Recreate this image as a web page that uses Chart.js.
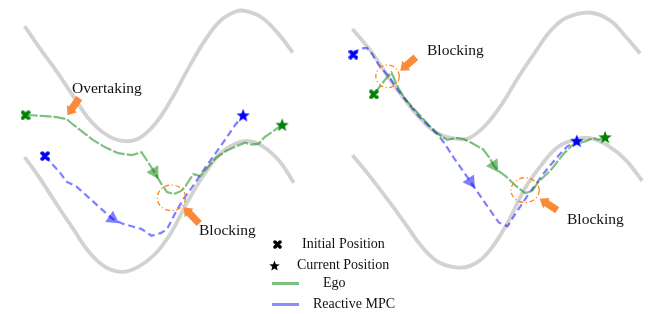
<!DOCTYPE html>
<html>
<head>
<meta charset="utf-8">
<script src="https://cdn.jsdelivr.net/npm/chart.js@4.4.0/dist/chart.umd.min.js"></script>
<style>
  html, body { margin: 0; padding: 0; background: #fff; }
  #wrap { position: relative; width: 657px; height: 314px; overflow: hidden; }
  #wrap canvas { position: absolute; left: 0; top: 0; }
  .lbl { position: absolute; font-family: 'Liberation Serif', 'DejaVu Serif', serif; color: #111; white-space: nowrap; line-height: 1; }
  .ann { font-size: 15.5px; }
  .leg { font-size: 14px; }
  .legline { position: absolute; height: 3px; width: 27px; }
</style>
</head>
<body>
<div id="wrap">
  <canvas id="chart" width="657" height="314"></canvas>
  <div class="lbl ann" style="left:72px; top:80px">Overtaking</div>
  <div class="lbl ann" style="left:199px; top:222px">Blocking</div>
  <div class="lbl ann" style="left:427px; top:42px">Blocking</div>
  <div class="lbl ann" style="left:567px; top:211px">Blocking</div>

  <span id="legX"></span>
  <div class="lbl leg" style="left:302px; top:237px">Initial Position</div>
  <span id="legStar"></span>
  <div class="lbl leg" style="left:297px; top:258px">Current Position</div>
  <div class="legline" style="left:272px; top:282px; background:rgba(0,128,0,0.5)"></div>
  <div class="lbl leg" style="left:323px; top:276px">Ego</div>
  <div class="legline" style="left:272px; top:303px; background:rgba(0,0,255,0.45)"></div>
  <div class="lbl leg" style="left:313px; top:297px">Reactive MPC</div>
</div>
<script>
// road edges (figure pixels, y down)
const leftRoadTop = [[17,19],[33,43],[50,67],[67,93],[83,117],[100,133],[117,140],[133,138],[150,123],[167,97],[183,67],[200,37],[217,14],[233,4],[243,3],[260,10],[277,27],[292,47]]
const leftRoadBottom = [[17,157],[33,180],[50,207],[67,233],[83,257],[100,273],[117,278],[133,273],[150,260],[167,237],[183,206],[200,177],[217,154],[233,143],[245,140],[260,145],[277,160],[293,184]]
const rightRoadTop = [[353,22],[373,47],[390,73],[407,97],[423,117],[440,132],[460,138],[473,137],[490,123],[507,100],[523,73],[540,47],[557,23],[573,10],[597,5],[617,13],[633,30],[648,48]]
const rightRoadBottom = [[353,155],[373,180],[390,203],[407,227],[423,250],[440,267],[457,273],[473,272],[490,260],[510,230],[530,190],[547,165],[563,147],[580,139],[597,137],[615,145],[633,160],[650,182]]

// trajectories
const leftEgo = [[18,113],[25,113],[38,114],[50,115],[60,117],[67,123],[77,131],[87,139],[100,147],[113,153],[120,154],[127,155],[137,152],[140,157],[144,163],[150,173],[157,185],[163,194],[170,196],[177,193],[182,188],[186,181],[190,175],[197,177],[203,170],[213,158],[223,151],[233,146],[243,142],[250,144],[257,143],[263,136],[273,129],[281,123]]
const leftMpc = [[38,156],[43,162],[53,173],[60,183],[70,188],[83,200],[97,213],[107,222],[117,227],[127,230],[137,233],[147,240],[157,237],[163,233],[167,225],[172,215],[180,201],[190,187],[203,167],[217,147],[233,123],[241,113]]
const rightEgo = [[375,91],[381,83],[387,75],[393,68],[400,84],[407,96],[415,105],[423,114],[431,123],[440,132],[450,139],[460,137],[467,138],[475,142],[487,149],[493,157],[498,166],[503,172],[510,177],[520,187],[530,195],[537,193],[543,184],[550,177],[557,170],[563,162],[570,153],[580,143],[587,142],[593,140],[600,137],[605,139],[612,136]]
const rightMpc = [[354,49],[360,43],[368,42],[373,48],[380,60],[390,72],[400,87],[410,100],[420,113],[430,123],[440,133],[447,142],[457,158],[474,183],[490,207],[503,226],[512,230],[520,217],[533,197],[550,173],[563,157],[573,146],[583,140]]

// where the heading triangles sit (index into trajectory)
const leftEgoArrow = 15, leftMpcArrow = 7, rightEgoArrow = 16, rightMpcArrow = 13

const GREEN = 'rgba(0,128,0,0.5)'
const BLUE = 'rgba(0,0,255,0.5)'
const ORANGE = '#fa8a3a'

const xy = a => a.map(([x, y]) => ({ x, y }))

function makeCross(color, s) {
  const c = document.createElement('canvas')
  c.width = s; c.height = s
  const g = c.getContext('2d')
  g.strokeStyle = color; g.lineWidth = s * 0.38; g.lineCap = 'round'
  const p = s * 0.22
  g.beginPath(); g.moveTo(p, p); g.lineTo(s - p, s - p); g.moveTo(s - p, p); g.lineTo(p, s - p); g.stroke()
  return c
}

function makeStar(color, s) {
  const c = document.createElement('canvas')
  c.width = s; c.height = s
  const g = c.getContext('2d')
  const R = s / 2, r = R * 0.42
  g.fillStyle = color
  g.beginPath()
  for (let i = 0; i < 10; i++) {
    const a = -Math.PI / 2 + i * Math.PI / 5
    const rr = i % 2 ? r : R
    g.lineTo(R + rr * Math.cos(a), R + 0.6 + rr * Math.sin(a))
  }
  g.closePath(); g.fill()
  return c
}

function road(pts) {
  return { data: xy(pts), showLine: true, borderColor: '#d2d2d2', borderWidth: 3.8, pointRadius: 0, tension: 0.4, order: 10 }
}
function path(pts, color, dash) {
  return { data: xy(pts), showLine: true, borderColor: color, borderWidth: 2.2, borderDash: dash, pointRadius: 0, tension: 0, order: 5 }
}
function heading(pts, i, color) {
  const [x0, y0] = pts[i - 1], [x1, y1] = pts[i + 1]
  const rot = Math.atan2(y1 - y0, x1 - x0) * 180 / Math.PI + 90
  return { data: xy([pts[i]]), pointStyle: 'triangle', pointRadius: 8, rotation: rot, backgroundColor: color, borderWidth: 0, order: 3 }
}
function marker(pts, img) {
  return { data: xy(pts), pointStyle: img, pointRadius: 6, order: 1 }
}

// dash-dot circles and fat arrows
const blockRings = [{ x: 167.5, y: 200, rx: 14.5, ry: 13.5 }, { x: 389, y: 72, rx: 12, ry: 12 }, { x: 530, y: 192, rx: 14.5, ry: 13 }]
const pointers = [{ from: [73, 95], to: [61, 113] }, { from: [196, 227], to: [180, 210] }, { from: [418, 52], to: [402, 66] }, { from: [563, 213], to: [545, 201] }]

const annotate = {
  id: 'annotate',
  afterDatasetsDraw(chart) {
    const { ctx, scales: { x, y } } = chart
    ctx.save()
    ctx.strokeStyle = '#ff7f0e'; ctx.lineWidth = 1.2; ctx.setLineDash([5, 2.5, 1.2, 2.5])
    blockRings.forEach(r => {
      const cx = x.getPixelForValue(r.x), cy = y.getPixelForValue(r.y)
      const rx = x.getPixelForValue(r.x + r.rx) - cx, ry = y.getPixelForValue(r.y + r.ry) - cy
      ctx.beginPath(); ctx.ellipse(cx, cy, rx, Math.abs(ry), 0, 0, Math.PI * 2); ctx.stroke()
    })
    ctx.setLineDash([])
    ctx.fillStyle = ORANGE
    pointers.forEach(p => {
      const x1 = x.getPixelForValue(p.from[0]), y1 = y.getPixelForValue(p.from[1])
      const x2 = x.getPixelForValue(p.to[0]), y2 = y.getPixelForValue(p.to[1])
      const dx = x2 - x1, dy = y2 - y1, len = Math.hypot(dx, dy)
      const ux = dx / len, uy = dy / len, nx = -uy, ny = ux
      const hl = 8, sw = 3.6, hw = 6.2
      const bx = x2 - ux * hl, by = y2 - uy * hl
      ctx.beginPath()
      ctx.moveTo(x1 + nx * sw, y1 + ny * sw)
      ctx.lineTo(bx + nx * sw, by + ny * sw)
      ctx.lineTo(bx + nx * hw, by + ny * hw)
      ctx.lineTo(x2, y2)
      ctx.lineTo(bx - nx * hw, by - ny * hw)
      ctx.lineTo(bx - nx * sw, by - ny * sw)
      ctx.lineTo(x1 - nx * sw, y1 - ny * sw)
      ctx.closePath(); ctx.fill()
    })
    ctx.restore()
  }
}

const greenX = makeCross('#008000', 10), blueX = makeCross('#0000ff', 10)
const greenStar = makeStar('#008000', 14), blueStar = makeStar('#0000ff', 14)

new Chart(document.getElementById('chart'), {
  type: 'scatter',
  data: {
    datasets: [
      road(leftRoadTop), road(leftRoadBottom), road(rightRoadTop), road(rightRoadBottom),
      path(leftEgo, GREEN, [12, 2]), path(rightEgo, GREEN, [12, 2]),
      path(leftMpc, BLUE, [7, 4]), path(rightMpc, BLUE, [7, 4]),
      heading(leftEgo, leftEgoArrow, GREEN), heading(rightEgo, rightEgoArrow, GREEN),
      heading(leftMpc, leftMpcArrow, BLUE), heading(rightMpc, rightMpcArrow, BLUE),
      marker([leftEgo[0], rightEgo[0]], greenX), marker([leftMpc[0], rightMpc[0]], blueX),
      marker([leftEgo[leftEgo.length - 1], rightEgo[rightEgo.length - 1]], greenStar),
      marker([leftMpc[leftMpc.length - 1], rightMpc[rightMpc.length - 1]], blueStar),
    ],
  },
  options: {
    responsive: false, animation: false, devicePixelRatio: 1,
    layout: { padding: 0 },
    plugins: { legend: { display: false }, tooltip: { enabled: false } },
    scales: {
      x: { type: 'linear', min: 0, max: 657, display: false },
      y: { type: 'linear', min: 0, max: 314, reverse: true, display: false },
    },
  },
  plugins: [annotate],
})

// legend symbols
const lx = makeCross('#000', 9); lx.style.left = '273px'; lx.style.top = '240px'
const ls = makeStar('#000', 11); ls.style.left = '269px'; ls.style.top = '260px'
document.getElementById('legX').appendChild(lx)
document.getElementById('legStar').appendChild(ls)
</script>
</body>
</html>
